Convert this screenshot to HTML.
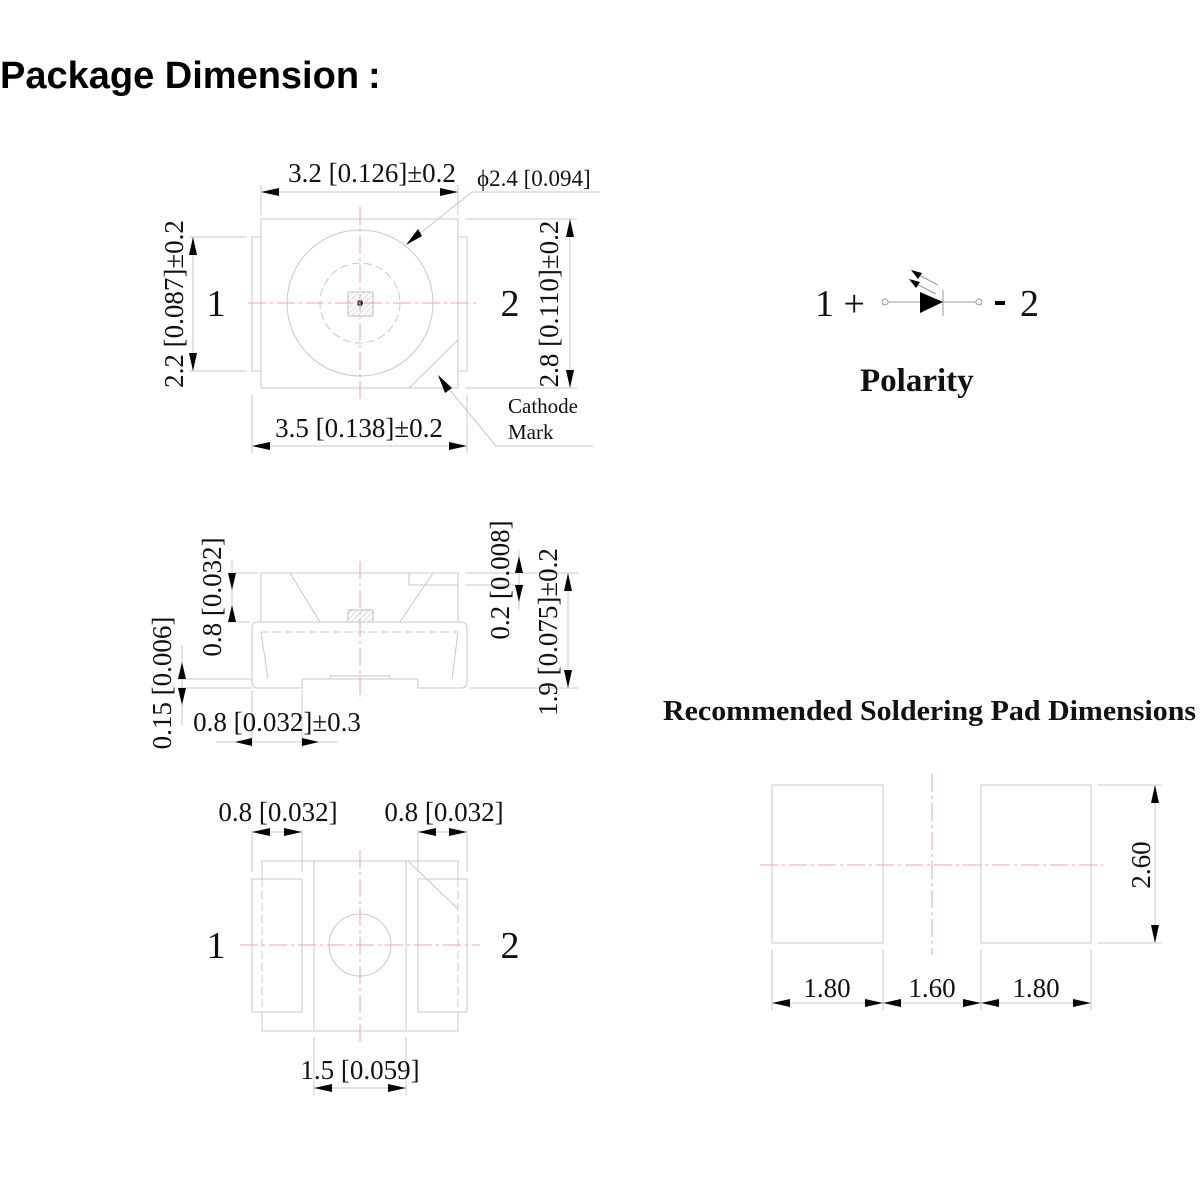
<!DOCTYPE html>
<html><head><meta charset="utf-8"><style>
html,body{margin:0;padding:0;background:#fff;}
svg{display:block;}
.t{font-family:"Liberation Serif",serif;fill:#111;}
.g{stroke:#c8c8c8;stroke-width:1;fill:none;}
.d{stroke:#c8c8c8;stroke-width:1;fill:none;stroke-dasharray:8,4;}
.r{stroke:#f4a0a0;stroke-width:1;fill:none;stroke-dasharray:18,4,3,4;}
.k{stroke:#999;stroke-width:1;fill:none;}
</style></head><body>
<svg width="1200" height="1200" viewBox="0 0 1200 1200" xmlns="http://www.w3.org/2000/svg">
<defs>
<marker id="a" viewBox="0 0 18 8" refX="18" refY="4" markerWidth="18" markerHeight="8" markerUnits="userSpaceOnUse" orient="auto-start-reverse"><path d="M0,0 L18,4 L0,8 z" fill="#000"/></marker>
<pattern id="h" width="4" height="4" patternUnits="userSpaceOnUse" patternTransform="rotate(45)"><line x1="0" y1="0" x2="0" y2="4" stroke="#bbb" stroke-width="1"/></pattern>
</defs>
<text x="0" y="88" font-family="Liberation Sans, sans-serif" font-weight="bold" font-size="38" fill="#000">Package Dimension<tspan x="368">:</tspan></text>

<!-- TOP VIEW -->
<rect class="g" x="261" y="219" width="197" height="169"/>
<rect class="g" x="252" y="237" width="9" height="134"/>
<rect class="g" x="458" y="237" width="9" height="134"/>
<circle class="g" cx="360" cy="303" r="73"/>
<circle class="d" cx="360" cy="303" r="40"/>
<rect x="348" y="292" width="25" height="24" fill="url(#h)" stroke="#bbb"/>
<circle cx="360" cy="303" r="3" fill="#222"/>
<line class="r" x1="248" y1="303" x2="480" y2="303"/>
<line class="r" x1="360" y1="207" x2="360" y2="400"/>
<line class="g" x1="458" y1="340" x2="409" y2="388"/>
<line class="g" x1="261" y1="185" x2="261" y2="215"/><line class="g" x1="458" y1="185" x2="458" y2="215"/>
<line class="g" x1="261" y1="192" x2="458" y2="192" marker-start="url(#a)" marker-end="url(#a)"/>
<text class="t" x="372" y="182" font-size="27" text-anchor="middle">3.2 [0.126]±0.2</text>
<polyline class="g" points="409,242 472,192 600,192"/>
<path d="M406,245 L418,229 L422,236 z" fill="#000"/>
<text class="t" x="477" y="186" font-size="23">ϕ2.4 [0.094]</text>
<line class="g" x1="190" y1="237" x2="247" y2="237"/><line class="g" x1="190" y1="371" x2="247" y2="371"/>
<line class="g" x1="193" y1="237" x2="193" y2="371" marker-start="url(#a)" marker-end="url(#a)"/>
<text class="t" font-size="27" text-anchor="middle" transform="translate(183,304) rotate(-90)">2.2 [0.087]±0.2</text>
<text class="t" x="216" y="316" font-size="38" text-anchor="middle">1</text>
<text class="t" x="510" y="316" font-size="38" text-anchor="middle">2</text>
<line class="g" x1="465" y1="219" x2="577" y2="219"/><line class="g" x1="465" y1="388" x2="577" y2="388"/>
<line class="g" x1="570" y1="219" x2="570" y2="388" marker-start="url(#a)" marker-end="url(#a)"/>
<text class="t" font-size="27" text-anchor="middle" transform="translate(558,304) rotate(-90)">2.8 [0.110]±0.2</text>
<polyline class="g" points="440,378 496,446 593,446"/>
<path d="M438,375 L452,388 L445,393 z" fill="#000"/>
<text class="t" x="508" y="413" font-size="21">Cathode</text>
<text class="t" x="508" y="439" font-size="21">Mark</text>
<line class="g" x1="252" y1="395" x2="252" y2="453"/><line class="g" x1="467" y1="395" x2="467" y2="453"/>
<line class="g" x1="252" y1="446" x2="467" y2="446" marker-start="url(#a)" marker-end="url(#a)"/>
<text class="t" x="359" y="437" font-size="27" text-anchor="middle">3.5 [0.138]±0.2</text>

<!-- SIDE VIEW -->
<polyline class="g" points="261,622 261,573 458,573 458,622"/>
<rect class="g" x="409" y="573" width="49" height="12"/>
<line class="g" x1="290" y1="573" x2="320" y2="622"/>
<line class="g" x1="433" y1="573" x2="400" y2="622"/>
<rect x="348" y="610" width="25" height="12" fill="url(#h)" stroke="#bbb"/>
<path class="g" d="M302,688 L258,688 Q252,688 252,682 L252,628 Q252,622 258,622 L461,622 Q467,622 467,628 L467,682 Q467,688 461,688 L418,688 L418,679 L302,679 z"/>
<line class="d" x1="261" y1="632" x2="458" y2="632"/>
<line class="g" x1="261" y1="632" x2="268" y2="679"/>
<line class="g" x1="458" y1="632" x2="452" y2="679"/>
<rect class="g" x="330" y="676" width="60" height="3"/>
<line class="r" x1="360" y1="561" x2="360" y2="700"/>
<line class="g" x1="228" y1="573" x2="258" y2="573"/><line class="g" x1="228" y1="622" x2="250" y2="622"/>
<line class="g" x1="232" y1="560" x2="232" y2="622"/>
<path d="M228,573 L232,590 L236,573 z M228,622 L232,605 L236,622 z" fill="#000"/>
<text class="t" font-size="27" text-anchor="middle" transform="translate(221,597) rotate(-90)">0.8 [0.032]</text>
<line class="g" x1="465" y1="573" x2="578" y2="573"/><line class="g" x1="465" y1="585" x2="525" y2="585"/>
<line class="g" x1="519" y1="550" x2="519" y2="610"/>
<path d="M515,573 L519,556 L523,573 z M515,585 L519,602 L523,585 z" fill="#000"/>
<text class="t" font-size="27" text-anchor="middle" transform="translate(509,580) rotate(-90)">0.2 [0.008]</text>
<line class="g" x1="470" y1="688" x2="578" y2="688"/>
<line class="g" x1="568" y1="573" x2="568" y2="688" marker-start="url(#a)" marker-end="url(#a)"/>
<text class="t" font-size="27" text-anchor="middle" transform="translate(557,632) rotate(-90)">1.9 [0.075]±0.2</text>
<line class="g" x1="178" y1="679" x2="252" y2="679"/><line class="g" x1="178" y1="688" x2="252" y2="688"/>
<line class="g" x1="182" y1="645" x2="182" y2="725"/>
<path d="M178,679 L182,662 L186,679 z M178,688 L182,705 L186,688 z" fill="#000"/>
<text class="t" font-size="27" text-anchor="middle" transform="translate(171,683) rotate(-90)">0.15 [0.006]</text>
<line class="g" x1="252" y1="690" x2="252" y2="748"/><line class="g" x1="302" y1="690" x2="302" y2="748"/>
<line class="g" x1="216" y1="742" x2="338" y2="742"/>
<path d="M252,738 L235,742 L252,746 z M302,738 L319,742 L302,746 z" fill="#000"/>
<text class="t" x="277" y="731" font-size="27" text-anchor="middle">0.8 [0.032]±0.3</text>

<!-- BOTTOM VIEW -->
<rect class="g" x="262" y="861" width="196" height="170"/>
<rect x="252" y="879" width="50" height="133" fill="#fff" stroke="#c8c8c8"/>
<rect x="418" y="879" width="49" height="133" fill="#fff" stroke="#c8c8c8"/>
<line class="d" x1="262" y1="879" x2="262" y2="1012"/>
<line class="d" x1="458" y1="879" x2="458" y2="1012"/>
<line class="g" x1="314" y1="861" x2="314" y2="1031"/>
<line class="g" x1="406" y1="861" x2="406" y2="1031"/>
<line class="g" x1="408" y1="861" x2="458" y2="909"/>
<circle class="g" cx="360" cy="945" r="31"/>
<line class="r" x1="240" y1="945" x2="480" y2="945"/>
<line class="r" x1="360" y1="850" x2="360" y2="1043"/>
<text class="t" x="216" y="958" font-size="38" text-anchor="middle">1</text>
<text class="t" x="510" y="958" font-size="38" text-anchor="middle">2</text>
<line class="g" x1="252" y1="830" x2="252" y2="872"/><line class="g" x1="302" y1="830" x2="302" y2="872"/>
<line class="g" x1="418" y1="830" x2="418" y2="872"/><line class="g" x1="467" y1="830" x2="467" y2="872"/>
<line class="g" x1="252" y1="832" x2="302" y2="832" marker-start="url(#a)" marker-end="url(#a)"/>
<line class="g" x1="418" y1="832" x2="467" y2="832" marker-start="url(#a)" marker-end="url(#a)"/>
<text class="t" x="278" y="821" font-size="27" text-anchor="middle">0.8 [0.032]</text>
<text class="t" x="444" y="821" font-size="27" text-anchor="middle">0.8 [0.032]</text>
<line class="g" x1="314" y1="1037" x2="314" y2="1095"/><line class="g" x1="406" y1="1037" x2="406" y2="1095"/>
<line class="g" x1="314" y1="1088" x2="406" y2="1088" marker-start="url(#a)" marker-end="url(#a)"/>
<text class="t" x="360" y="1079" font-size="27" text-anchor="middle">1.5 [0.059]</text>

<!-- POLARITY -->
<text class="t" x="815" y="316" font-size="38">1 +</text>
<line class="k" x1="888" y1="302" x2="976" y2="302"/>
<circle cx="885" cy="302" r="3" fill="#fff" stroke="#999"/>
<circle cx="979" cy="302" r="3" fill="#fff" stroke="#999"/>
<path d="M920,292 L943,302 L920,313 z" fill="#000"/>
<line class="k" x1="943" y1="290" x2="943" y2="316"/>
<line class="k" x1="913" y1="272" x2="938" y2="285"/>
<line class="k" x1="911" y1="281" x2="936" y2="294"/>
<path d="M911,270 L922,273 L918,279 z M909,279 L920,282 L916,288 z" fill="#000"/>
<rect x="995" y="301" width="10" height="4" fill="#000"/>
<text class="t" x="1020" y="316" font-size="38">2</text>
<text class="t" x="860" y="391" font-size="33" font-weight="bold">Polarity</text>

<text class="t" x="663" y="720" font-size="29" font-weight="bold" textLength="533" lengthAdjust="spacingAndGlyphs">Recommended Soldering Pad Dimensions</text>

<!-- PADS -->
<rect class="g" x="772" y="785" width="111" height="158"/>
<rect class="g" x="981" y="785" width="110" height="158"/>
<line class="r" x1="760" y1="865" x2="1103" y2="865"/>
<line class="r" x1="932" y1="774" x2="932" y2="955"/>
<line class="g" x1="1098" y1="785" x2="1162" y2="785"/><line class="g" x1="1098" y1="943" x2="1162" y2="943"/>
<line class="g" x1="1155" y1="785" x2="1155" y2="943" marker-start="url(#a)" marker-end="url(#a)"/>
<text class="t" font-size="27" text-anchor="middle" transform="translate(1150,865) rotate(-90)">2.60</text>
<line class="g" x1="772" y1="950" x2="772" y2="1010"/><line class="g" x1="883" y1="950" x2="883" y2="1010"/>
<line class="g" x1="981" y1="950" x2="981" y2="1010"/><line class="g" x1="1091" y1="950" x2="1091" y2="1010"/>
<line class="g" x1="772" y1="1003" x2="883" y2="1003" marker-start="url(#a)" marker-end="url(#a)"/>
<line class="g" x1="883" y1="1003" x2="981" y2="1003" marker-start="url(#a)" marker-end="url(#a)"/>
<line class="g" x1="981" y1="1003" x2="1091" y2="1003" marker-start="url(#a)" marker-end="url(#a)"/>
<text class="t" x="827" y="997" font-size="27" text-anchor="middle">1.80</text>
<text class="t" x="932" y="997" font-size="27" text-anchor="middle">1.60</text>
<text class="t" x="1036" y="997" font-size="27" text-anchor="middle">1.80</text>
</svg>
</body></html>
